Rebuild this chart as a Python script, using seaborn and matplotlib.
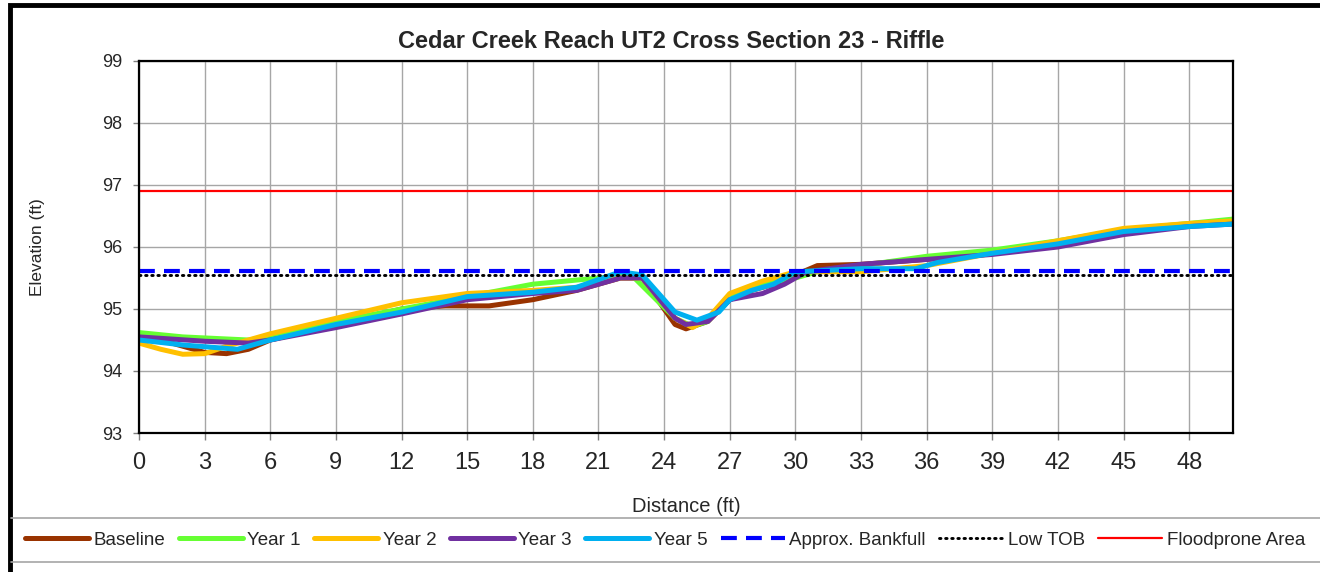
import matplotlib
matplotlib.use("Agg")
import matplotlib.pyplot as plt
from matplotlib.patches import Rectangle
import seaborn as sns

# station (ft) and elevation (ft) for each survey
base_x = [0, 1.5, 3, 4, 5, 6, 9, 12, 14, 16, 18, 20, 22, 23, 24.5, 25, 26, 27, 28, 29, 30, 31, 33, 36, 39, 42, 45, 48, 50]
base_y = [94.55, 94.45, 94.3, 94.28, 94.35, 94.5, 94.75, 95.0, 95.05, 95.05, 95.15, 95.3, 95.5, 95.5, 94.75, 94.68, 94.8,
          95.15, 95.3, 95.4, 95.55, 95.7, 95.72, 95.8, 95.9, 96.05, 96.25, 96.35, 96.4]

yr1_x = [0, 2, 5, 6, 9, 12, 15, 18, 21, 22.5, 24.5, 25.3, 26, 27, 28.5, 30, 31, 33, 36, 39, 42, 45, 48, 50]
yr1_y = [94.62, 94.55, 94.5, 94.55, 94.8, 95.0, 95.2, 95.4, 95.5, 95.55, 94.85, 94.72, 94.8, 95.2, 95.4, 95.5, 95.6,
         95.7, 95.85, 95.95, 96.1, 96.28, 96.38, 96.45]

yr2_x = [0, 1, 2, 3, 4, 6, 9, 12, 15, 18, 20, 22, 23, 24.5, 25.3, 26, 27, 28.5, 30, 33, 36, 39, 42, 45, 48, 50]
yr2_y = [94.45, 94.35, 94.27, 94.28, 94.4, 94.6, 94.85, 95.1, 95.25, 95.3, 95.35, 95.5, 95.5, 94.85, 94.7, 94.85,
         95.25, 95.45, 95.6, 95.6, 95.7, 95.9, 96.1, 96.3, 96.38, 96.42]

yr3_x = [0, 3, 5, 6, 9, 12, 15, 18, 20, 22, 23, 24.5, 25, 26, 27, 28.5, 29.5, 30.5, 33, 36, 39, 42, 45, 48, 50]
yr3_y = [94.55, 94.48, 94.45, 94.5, 94.7, 94.92, 95.15, 95.25, 95.3, 95.5, 95.5, 94.85, 94.75, 94.8, 95.15, 95.25,
         95.4, 95.6, 95.72, 95.8, 95.88, 96.0, 96.2, 96.33, 96.37]

yr5_x = [0, 2, 4.5, 6, 9, 12, 15, 18, 20, 22, 23, 24.5, 25.5, 26.5, 27, 28, 29, 30, 33, 35.5, 36.5, 39, 42, 45, 48, 50]
yr5_y = [94.5, 94.42, 94.35, 94.5, 94.75, 94.95, 95.2, 95.27, 95.35, 95.6, 95.55, 94.95, 94.82, 94.95, 95.15, 95.3,
         95.4, 95.6, 95.65, 95.65, 95.75, 95.9, 96.05, 96.25, 96.33, 96.37]

level_x = [0, 50]
bankfull = 95.62
low_tob = 95.55
floodprone = 96.9

sns.set_style("white")
plt.rcParams["font.family"] = ["Liberation Sans", "DejaVu Sans"]

fig = plt.figure(figsize=(13.2, 5.72), dpi=100)
ax = fig.add_axes([0.1053, 0.243, 0.8288, 0.6504])

series = [
    ("Baseline", base_x, base_y, "#993300"),
    ("Year 1", yr1_x, yr1_y, "#66ff33"),
    ("Year 2", yr2_x, yr2_y, "#ffc000"),
    ("Year 3", yr3_x, yr3_y, "#7030a0"),
    ("Year 5", yr5_x, yr5_y, "#00b0f0"),
]
for name, xs, ys, col in series:
    sns.lineplot(x=xs, y=ys, ax=ax, color=col, linewidth=3.6, label=name,
                 solid_capstyle="round", solid_joinstyle="round")

sns.lineplot(x=level_x, y=[bankfull] * 2, ax=ax, color="#0000ff", linewidth=3,
             linestyle=(0, (3.8, 2.2)), label="Approx. Bankfull")
sns.lineplot(x=level_x, y=[low_tob] * 2, ax=ax, color="black", linewidth=2.1,
             linestyle=(0, (0.5, 1.6)), dash_capstyle="round", label="Low TOB")
sns.lineplot(x=level_x, y=[floodprone] * 2, ax=ax, color="#ff0000", linewidth=1.6,
             label="Floodprone Area")

ax.set_xlim(0, 50)
ax.set_ylim(93, 99)
ax.set_xticks(range(0, 49, 3))
ax.set_yticks(range(93, 100))
ax.grid(True, color="#a6a6a6", linewidth=1)
ax.tick_params(axis="x", labelsize=17, length=5, color="#808080", bottom=True, width=1, pad=9)
ax.tick_params(axis="y", labelsize=13, length=4, color="#808080", left=True, width=1, pad=8)
for s in ax.spines.values():
    s.set_color("black")
    s.set_linewidth(1.6)

fig.text(671 / 1320, 1 - 41 / 572, "Cedar Creek Reach UT2 Cross Section 23 - Riffle",
         fontsize=17, fontweight="bold", ha="center", va="center")
ax.set_xlabel("Distance (ft)", fontsize=14.5, labelpad=16)
ax.set_ylabel("Elevation (ft)", fontsize=12.5, labelpad=41)

handles, labels = ax.get_legend_handles_labels()
ax.get_legend().remove()
fig.legend(handles, labels, loc="center left", bbox_to_anchor=(0.019, 1 - 540 / 572), ncol=8,
           frameon=False, fontsize=13.5, handlelength=3.4, handletextpad=0.25, columnspacing=0.72,
           borderaxespad=0, borderpad=0)

# legend band and outer chart border
fig.lines.append(plt.Line2D([0.008, 1.0], [1 - 518 / 572] * 2, transform=fig.transFigure, color="#a6a6a6", linewidth=1.2))
fig.lines.append(plt.Line2D([0.008, 1.0], [1 - 562 / 572] * 2, transform=fig.transFigure, color="#a6a6a6", linewidth=1.2))
fig.patches.append(Rectangle((0.0075, -0.2), 1.2, 1.192, transform=fig.transFigure, fill=False,
                             edgecolor="black", linewidth=3.5))

fig.savefig("out.png", dpi=100)
